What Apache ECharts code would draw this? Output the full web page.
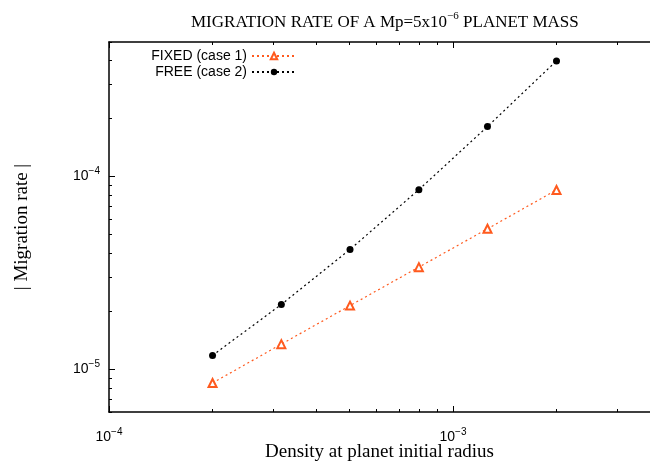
<!DOCTYPE html>
<html>
<head>
<meta charset="utf-8">
<title>Migration rate</title>
<script src="https://cdn.jsdelivr.net/npm/echarts@6/dist/echarts.min.js"></script>
<style>
  html, body { margin: 0; padding: 0; background: #fff; }
  #chart { width: 650px; height: 461px; }
</style>
</head>
<body>
<div id="chart"></div>
<script>
// density at planet initial radius
const densities = [2e-4, 3.17e-4, 5.02e-4, 7.96e-4, 1.26e-3, 2e-3]
// |migration rate|
const fixedRates = [8.49e-6, 1.35e-5, 2.14e-5, 3.39e-5, 5.36e-5, 8.53e-5]
const freeRates = [1.18e-5, 2.17e-5, 4.19e-5, 8.56e-5, 1.82e-4, 3.99e-4]

const xMajorTicks = [1e-4, 1e-3]
const xMinorTicks = [2e-4, 3e-4, 4e-4, 5e-4, 6e-4, 7e-4, 8e-4, 9e-4, 2e-3, 3e-3]
const yMajorTicks = [1e-5, 1e-4]
const yMinorTicks = [6e-6, 7e-6, 8e-6, 9e-6, 2e-5, 3e-5, 4e-5, 5e-5, 6e-5, 7e-5, 8e-5, 9e-5, 2e-4, 3e-4, 4e-4, 5e-4]

const serif = '"Liberation Serif", "DejaVu Serif", serif'
const sans = '"Liberation Sans", Arial, sans-serif'
const orange = '#ff5a1e'

const chart = echarts.init(document.getElementById('chart'))

// 10^n as rich text
const powLabel = v => '{b|10}{s|−' + Math.round(-Math.log10(v)) + '}'
const powRich = {
  b: { fontFamily: sans, fontSize: 14, color: '#000' },
  s: { fontFamily: sans, fontSize: 10, color: '#000', padding: [0, 0, 11, 0] }
}

function xAxisDef (pos, ticks, len, withLabel, withLine) {
  return {
    type: 'log', logBase: 10, position: pos, min: 1e-4, max: 3.74e-3,
    axisLine: { show: withLine, onZero: false, lineStyle: { color: '#000', width: 1.5 } },
    axisTick: { show: true, inside: true, length: len, customValues: ticks, lineStyle: { color: '#000', width: 1 } },
    axisLabel: withLabel
      ? { show: true, customValues: ticks, margin: 15, formatter: powLabel, rich: powRich }
      : { show: false },
    splitLine: { show: false }
  }
}

function yAxisDef (ticks, len, withLabel, withLine) {
  return {
    type: 'log', logBase: 10, position: 'left', min: 6e-6, max: 5e-4,
    axisLine: { show: withLine, onZero: false, lineStyle: { color: '#000', width: 1.5 } },
    axisTick: { show: true, inside: true, length: len, customValues: ticks, lineStyle: { color: '#000', width: 1 } },
    axisLabel: withLabel
      ? { show: true, customValues: ticks, margin: 9, formatter: powLabel, rich: powRich }
      : { show: false },
    splitLine: { show: false }
  }
}

const option = {
  animation: false,
  backgroundColor: '#fff',
  title: {
    text: 'MIGRATION RATE OF A Mp=5x10{s|−6} PLANET MASS',
    left: 186,
    top: 6,
    textStyle: {
      fontFamily: serif, fontSize: 17, fontWeight: 'normal', color: '#000',
      rich: {
        s: { fontFamily: serif, fontSize: 11, color: '#000', padding: [0, 0, 12, 0] }
      }
    }
  },
  grid: { left: 109, right: 0, top: 42, bottom: 49, outerBoundsMode: 'none', containLabel: false },
  legend: {
    orient: 'vertical',
    right: 353,
    top: 49,
    padding: 0,
    align: 'right',
    itemWidth: 44,
    itemHeight: 8,
    itemGap: 2,
    textStyle: { fontFamily: sans, fontSize: 14, color: '#000' },
    data: ['FIXED (case 1)', 'FREE (case 2)']
  },
  xAxis: [
    Object.assign(xAxisDef('bottom', xMajorTicks, 6, true, true), {
      name: 'Density at planet initial radius',
      nameLocation: 'middle',
      nameGap: 31,
      nameMoveOverlap: false,
      nameTextStyle: { fontFamily: serif, fontSize: 19, color: '#000' }
    }),
    xAxisDef('bottom', xMinorTicks, 3, false, false),
    xAxisDef('top', xMajorTicks, 6, false, true),
    xAxisDef('top', xMinorTicks, 3, false, false)
  ],
  yAxis: [
    Object.assign(yAxisDef(yMajorTicks, 6, true, true), {
      name: '| Migration rate |',
      nameLocation: 'middle',
      nameGap: 77,
      nameRotate: 90,
      nameTextStyle: { fontFamily: serif, fontSize: 19, color: '#000' }
    }),
    yAxisDef(yMinorTicks, 3, false, false)
  ],
  series: [
    {
      name: 'FIXED (case 1)',
      type: 'line',
      xAxisIndex: 0,
      yAxisIndex: 0,
      data: densities.map((d, i) => [d, fixedRates[i]]),
      symbol: 'emptyTriangle',
      symbolSize: 8,
      color: orange,
      itemStyle: { color: orange, borderColor: orange, borderWidth: 1.3 },
      lineStyle: { color: orange, width: 1.2, type: [2, 3] }
    },
    {
      name: 'FREE (case 2)',
      type: 'line',
      xAxisIndex: 0,
      yAxisIndex: 0,
      data: densities.map((d, i) => [d, freeRates[i]]),
      symbol: 'circle',
      symbolSize: 7,
      color: '#000',
      itemStyle: { color: '#000' },
      lineStyle: { color: '#000', width: 1.2, type: [2, 3] }
    }
  ]
}

chart.setOption(option)
</script>
</body>
</html>
